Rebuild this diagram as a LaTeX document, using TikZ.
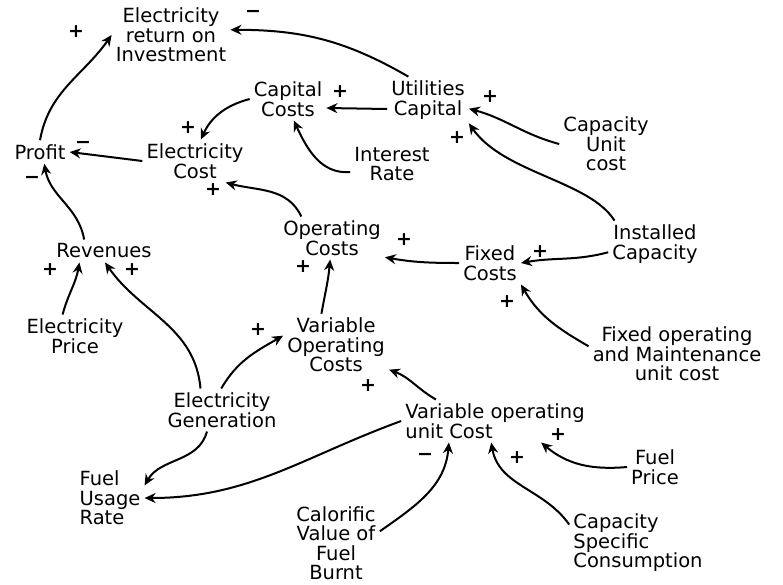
\documentclass[tikz,border=0pt]{standalone}
\usepackage{fontspec}
\setmainfont{DejaVu Sans}
\usepackage{tikz}
\usetikzlibrary{arrows.meta, calc}

\newcommand{\varfont}{\fontsize{19.5}{19.5}\selectfont}
\newcommand{\sgnfont}{\fontsize{19}{19}\selectfont\bfseries}

\begin{document}
\begin{tikzpicture}[
  x=1pt, y=-1pt,
  var/.style={align=center, font=\varfont, inner sep=4pt},
  varl/.style={var, align=left},
  link/.style={-{Stealth[length=11pt, width=10pt]}, line width=2pt},
  sgn/.style={font=\sgnfont, inner sep=0pt}
]
  \useasboundingbox (0,0) rectangle (783,584);

  % variables
  \node[var] (roi)    at (171,35)  {Electricity\\return on\\Investment};
  \node[var] (ucap)   at (428,100) {Utilities\\Capital};
  \node[var] (ccost)  at (288,99)  {Capital\\Costs};
  \node[var] (profit) at (40,152)  {Profit};
  \node[var] (ecost)  at (195,161) {Electricity\\Cost};
  \node[var] (irate)  at (392,164) {Interest\\Rate};
  \node[var] (cuc)    at (606,144) {Capacity\\Unit\\cost};
  \node[var] (icap)   at (655,244) {Installed\\Capacity};
  \node[var] (fcost)  at (490,263) {Fixed\\Costs};
  \node[var] (fom)    at (677,354) {Fixed operating\\and Maintenance\\unit cost};
  \node[var] (opc)    at (332,238) {Operating\\Costs};
  \node[var] (rev)    at (104,251) {Revenues};
  \node[var] (eprice) at (75,336)  {Electricity\\Price};
  \node[var] (voc)    at (336,345) {Variable\\Operating\\Costs};
  \node[var] (egen)   at (222,410) {Electricity\\Generation};
  \node[varl] (vouc)  at (495,421) {Variable operating\\unit Cost};
  \node[var] (fprice) at (655,467) {Fuel\\Price};
  \node[varl] (fuel)  at (110,498) {Fuel\\Usage\\Rate};
  \node[var] (calv)   at (336,543) {Calorific\\Value of\\Fuel\\Burnt};
  \node[varl] (csc)   at (638,543) {Capacity\\Specific\\Consumption};

  % causal links
  \draw[link] (profit.north) to[out=80,in=-125] (roi.west);
  \draw[link] (ucap.130) to[out=150,in=0] (roi.5);
  \draw[link] ([yshift=-9pt]ucap.west) -- ([yshift=-9pt]ccost.east);
  \draw[link] (ccost.west) to[out=195,in=65] (ecost.75);
  \draw[link] ([yshift=-8pt]irate.west) to[out=185,in=-65] (ccost.-75);
  \draw[link] (ecost.west) -- (profit.east);
  \draw[link] (rev.150) to[out=100,in=-80] (profit.-70);
  \draw[link] (eprice.120) to[out=75,in=-100] (rev.-155);
  \draw[link] (egen.135) to[out=95,in=-55] (rev.-85);
  \draw[link] (egen.92) to[out=60,in=210] (voc.170);
  \draw[link] (egen.-125) to[out=-105,in=60] (fuel.20);
  \draw[link] (vouc.west) to[out=200,in=0] (fuel.east);
  \draw[link] (vouc.160) to[out=150,in=-20] (voc.-25);
  \draw[link] (voc.115) to[out=80,in=-95] (opc.-95);
  \draw[link] (opc.145) to[out=115,in=-15] (ecost.-35);
  \draw[link] (fcost.west) to[out=180,in=-10] (opc.-20);
  \draw[link] (icap.190) to[out=195,in=10] (fcost.east);
  \draw[link] (icap.150) .. controls +(-25,-40) and +(35,50) .. (ucap.south east);
  \draw[link] (cuc.west) to[out=165,in=-15] (ucap.-12);
  \draw[link] (fom.175) to[out=150,in=-60] (fcost.south east);
  \draw[link] (fprice.west) to[out=185,in=-40] (vouc.-25);
  \draw[link] (calv.15) to[out=35,in=-95] (vouc.-155);
  \draw[link] (csc.165) to[out=125,in=-80] (vouc.-100);

  % polarities
  \node[sgn] (sg1)  at (76,32)   {+};
  \node[sgn] (sg2)  at (253,14)  {−};
  \node[sgn] (sg3)  at (340,92)  {+};
  \node[sgn] (sg4)  at (490,97)  {+};
  \node[sgn] (sg5)  at (457,138) {+};
  \node[sgn] (sg6)  at (188,128) {+};
  \node[sgn] (sg7)  at (213,190) {+};
  \node[sgn] (sg8)  at (83,145)  {−};
  \node[sgn] (sg9)  at (32,180)  {−};
  \node[sgn] (sg10) at (50,270)  {+};
  \node[sgn] (sg11) at (132,270) {+};
  \node[sgn] (sg12) at (404,240) {+};
  \node[sgn] (sg13) at (303,267) {+};
  \node[sgn] (sg14) at (540,252) {+};
  \node[sgn] (sg15) at (507,302) {+};
  \node[sgn] (sg16) at (258,330) {+};
  \node[sgn] (sg17) at (368,386) {+};
  \node[sgn] (sg18) at (558,435) {+};
  \node[sgn] (sg19) at (425,457) {−};
  \node[sgn] (sg20) at (517,458) {+};
\end{tikzpicture}
\end{document}
